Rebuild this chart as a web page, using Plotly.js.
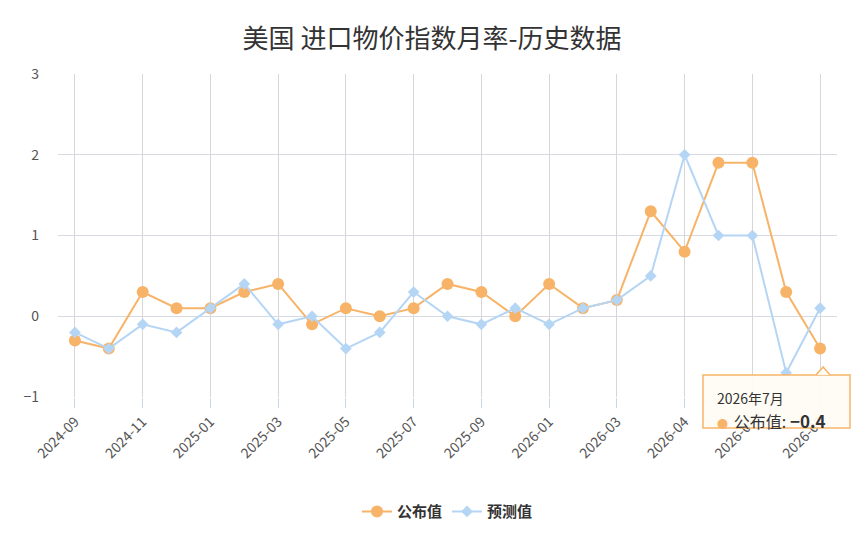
<!DOCTYPE html>
<html>
<head>
<meta charset="utf-8">
<script src="https://cdn.plot.ly/plotly-3.0.1.min.js"></script>
<style>
  html, body { margin: 0; padding: 0; background: #fff; }
  #chart { width: 864px; height: 542px; }
</style>
</head>
<body>
<div id="chart"></div>
<script>
const categories = [
  "2024-09", "2024-10", "2024-11", "2024-12", "2025-01", "2025-02",
  "2025-03", "2025-04", "2025-05", "2025-06", "2025-07", "2025-08",
  "2025-09", "2025-10", "2026-01", "2026-02", "2026-03", "2026-03",
  "2026-04", "2026-05", "2026-05", "2026-06", "2026-07"
];
const actual = [
  -0.3, -0.4, 0.3, 0.1, 0.1, 0.3, 0.4, -0.1, 0.1, 0.0, 0.1, 0.4,
  0.3, 0.0, 0.4, 0.1, 0.2, 1.3, 0.8, 1.9, 1.9, 0.3, -0.4
];
const forecast = [
  -0.2, -0.4, -0.1, -0.2, 0.1, 0.4, -0.1, 0.0, -0.4, -0.2, 0.3, 0.0,
  -0.1, 0.1, -0.1, 0.1, 0.2, 0.5, 2.0, 1.0, 1.0, -0.7, 0.1
];
const yTicks = [-1, 0, 1, 2, 3];

const font = "'Noto Sans CJK SC', 'Noto Sans', sans-serif";
const orange = "#f7b468";
const blue = "#b5d5f5";
const tipBg = "rgba(255,252,246,0.95)";

const idx = categories.map((c, i) => i);
const tickIdx = idx.filter(i => i % 2 === 0);

const traces = [
  {
    x: idx, y: actual, name: "公布值",
    type: "scatter", mode: "lines+markers",
    line: {color: orange, width: 2},
    marker: {color: orange, size: 12, symbol: "circle"},
    hoverinfo: "skip"
  },
  {
    x: idx, y: forecast, name: "预测值",
    type: "scatter", mode: "lines+markers",
    line: {color: blue, width: 2},
    marker: {color: blue, size: 9, symbol: "diamond"},
    hoverinfo: "skip"
  }
];

// tooltip for the last point (box + pointer drawn as shapes, text as annotations)
const last = categories.length - 1;
const [yr, mo] = categories[last].split("-");
const tipDate = `${yr}年${parseInt(mo)}月`;
const tipValue = `<span style="color:${orange};font-size:11px">●</span>  ` +
  `<span style="font-size:16px">公布值: </span>` +
  `<span style="font-size:17px"><b>${actual[last].toFixed(1).replace("-", "−")}</b></span>`;

const layout = {
  width: 864,
  height: 542,
  margin: {l: 58, r: 27, t: 74, b: 145},
  paper_bgcolor: "#fff",
  plot_bgcolor: "#fff",
  font: {family: font, color: "#555", size: 14},
  title: {
    text: "美国 进口物价指数月率-历史数据",
    font: {family: font, size: 26, color: "#333"},
    x: 0.5, xanchor: "center", y: 0.945
  },
  showlegend: true,
  legend: {
    orientation: "h",
    x: 0.5, xanchor: "center",
    y: -0.355, yanchor: "middle",
    font: {family: font, size: 15, color: "#333", weight: "bold"},
    itemwidth: 30
  },
  xaxis: {
    range: [-0.5, last + 0.5],
    tickvals: tickIdx,
    ticktext: tickIdx.map(i => categories[i]),
    tickangle: -45,
    automargin: false,
    showgrid: true,
    gridcolor: "#d6d6d6",
    gridwidth: 1,
    zeroline: false,
    ticks: "outside",
    ticklen: 10,
    tickcolor: "#ccd6eb",
    showline: false,
    tickfont: {family: font, size: 14, color: "#555"}
  },
  yaxis: {
    range: [-1, 3],
    tickvals: yTicks,
    ticktext: yTicks.map(v => v < 0 ? "−" + Math.abs(v) : String(v)),
    automargin: false,
    showgrid: true,
    gridcolor: "#d8dae2",
    gridwidth: 1,
    zeroline: false,
    showline: false,
    ticks: "",
    ticklabelstandoff: 18,
    tickfont: {family: font, size: 14, color: "#555"}
  },
  shapes: [
    {
      type: "rect", xref: "paper", yref: "paper",
      x0: 0.828, x1: 1.0167, y0: -0.096, y1: 0.068,
      fillcolor: tipBg,
      line: {color: orange, width: 1.5},
      layer: "above"
    },
    {
      type: "path", xref: "x", yref: "paper",
      path: "M 21.88 0.068 L 22.09 0.093 L 22.3 0.068",
      fillcolor: tipBg,
      line: {color: orange, width: 1.5},
      layer: "above"
    }
  ],
  annotations: [
    {
      xref: "paper", yref: "paper",
      x: 0.8434, y: -0.003,
      xanchor: "left", yanchor: "middle",
      showarrow: false,
      text: tipDate,
      font: {family: font, size: 14, color: "#333"}
    },
    {
      xref: "paper", yref: "paper",
      x: 0.8434, y: -0.0743,
      xanchor: "left", yanchor: "middle",
      showarrow: false,
      text: tipValue,
      font: {family: font, size: 13, color: "#333"}
    }
  ]
};

Plotly.newPlot("chart", traces, layout, {displayModeBar: false, staticPlot: true});
</script>
</body>
</html>
